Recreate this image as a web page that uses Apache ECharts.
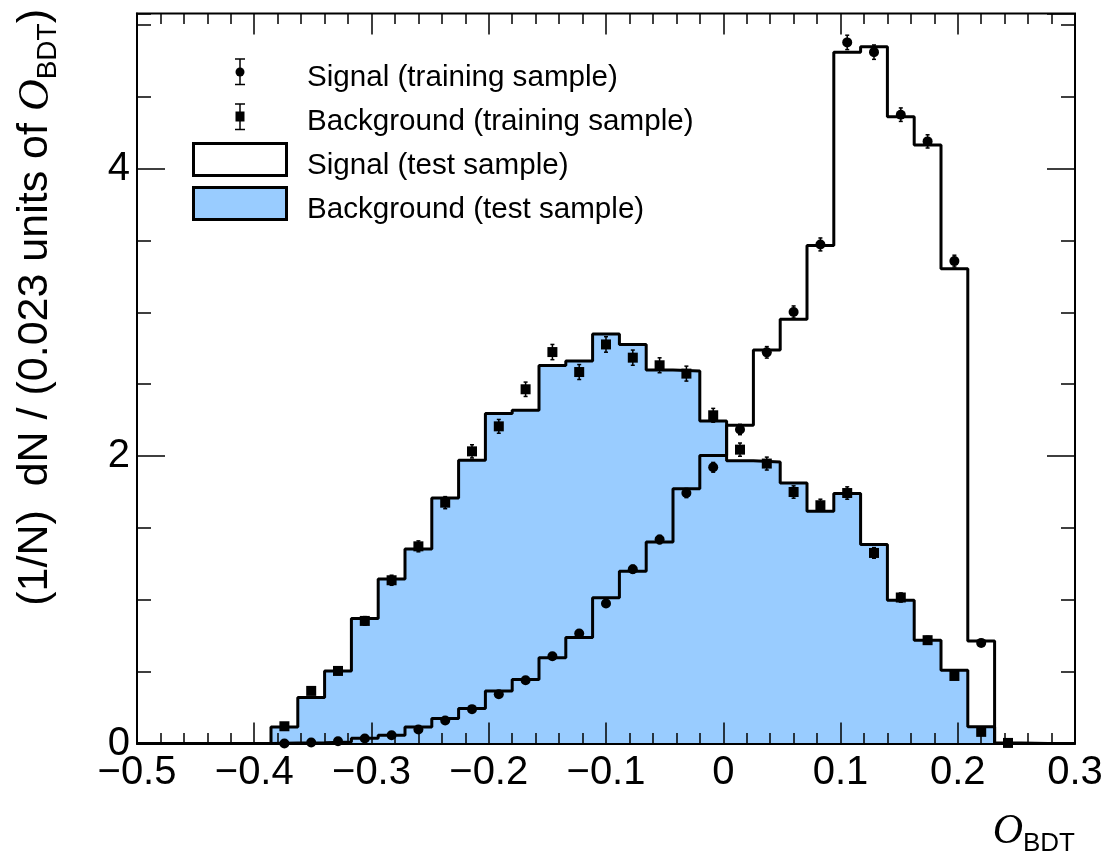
<!DOCTYPE html>
<html>
<head>
<meta charset="utf-8">
<script src="https://cdn.jsdelivr.net/npm/echarts@6/dist/echarts.min.js"></script>
<style>
  html, body { margin: 0; padding: 0; background: #fff; }
  #chart { width: 1114px; height: 862px; }
</style>
</head>
<body>
<div id="chart"></div>
<script>
// Binning of the BDT output
const xMin = -0.5;
const xMax = 0.3;
const nBins = 35;
const yMax = 5.08;
const xTickStep = 0.1;
const yMajorStep = 2;
const yMinorStep = 0.5;

// Normalised histograms, one value per bin
const bgTest = [0, 0, 0, 0, 0, 0.115, 0.32, 0.505, 0.87, 1.145,
  1.354, 1.709, 1.971, 2.296, 2.319, 2.63, 2.662, 2.85, 2.776, 2.60,
  2.592, 2.244, 1.968, 1.959, 1.813, 1.616, 1.739, 1.384, 0.997, 0.719,
  0.51, 0.116, 0.004, 0, 0];
const sigTest = [0, 0, 0, 0, 0, 0.003, 0.006, 0.011, 0.037, 0.058,
  0.115, 0.174, 0.243, 0.366, 0.445, 0.596, 0.737, 1.015, 1.199, 1.403,
  1.772, 2.004, 2.214, 2.738, 2.952, 3.466, 4.811, 4.848, 4.362, 4.165,
  3.304, 0.714, 0, 0, 0];
const sigTrain = [null, null, null, null, null, 0.0, 0.007, 0.016, 0.035, 0.058,
  0.097, 0.16, 0.239, 0.343, 0.44, 0.607, 0.765, 0.974, 1.213, 1.419,
  1.743, 1.922, 2.185, 2.722, 3.003, 3.473, 4.879, 4.811, 4.376, 4.19,
  3.357, 0.70, null, null, null];
const sigTrainErr = [null, null, null, null, null, 0.001, 0.002, 0.003, 0.005, 0.006,
  0.008, 0.01, 0.012, 0.015, 0.016, 0.019, 0.022, 0.024, 0.027, 0.029,
  0.032, 0.034, 0.036, 0.04, 0.042, 0.045, 0.05, 0.05, 0.047, 0.046,
  0.041, 0.019, null, null, null];
const bgTrain = [null, null, null, null, null, 0.12, 0.366, 0.505, 0.853, 1.136,
  1.372, 1.676, 2.033, 2.207, 2.465, 2.724, 2.585, 2.777, 2.685, 2.632,
  2.574, 2.284, 2.045, 1.948, 1.75, 1.658, 1.743, 1.326, 1.016, 0.719,
  0.47, 0.081, 0.004, null, null];
const bgTrainErr = [null, null, null, null, null, 0.012, 0.02, 0.025, 0.03, 0.035,
  0.038, 0.042, 0.046, 0.048, 0.05, 0.053, 0.052, 0.054, 0.053, 0.052,
  0.052, 0.048, 0.046, 0.045, 0.043, 0.042, 0.043, 0.037, 0.032, 0.027,
  0.022, 0.01, 0.002, null, null];

const legendLabels = [
  'Signal (training sample)',
  'Background (training sample)',
  'Signal (test sample)',
  'Background (test sample)'
];

const BLUE = '#99ccff';
const SANS = 'Liberation Sans, Arial, Helvetica, sans-serif';
const SERIF = 'Liberation Serif, Times New Roman, serif';

const binWidth = (xMax - xMin) / nBins;
const edges = [];
for (let i = 0; i <= nBins; i++) edges.push(xMin + i * binWidth);

// step outline: one point per left bin edge, plus the closing right edge
function stepData(values) {
  const d = values.map((v, i) => [edges[i], v]);
  d.push([xMax, values[values.length - 1]]);
  return d;
}
function pointData(values, errs) {
  const d = [];
  values.forEach((v, i) => {
    if (v !== null) d.push([edges[i] + binWidth / 2, v, errs[i]]);
  });
  return d;
}

function xLabel(v) {
  if (Math.abs(v) < 1e-9) return '0';
  return (v < 0 ? '\u2212' : '') + Math.abs(v).toFixed(1);
}

function errorBarItem(params, api) {
  const x = api.value(0), y = api.value(1), e = api.value(2);
  const hi = api.coord([x, y + e]);
  const lo = api.coord([x, y - e]);
  const cap = 2;
  const st = { stroke: '#000', lineWidth: 1.5 };
  return {
    type: 'group',
    children: [
      { type: 'line', shape: { x1: hi[0], y1: hi[1], x2: lo[0], y2: lo[1] }, style: st },
      { type: 'line', shape: { x1: hi[0] - cap, y1: hi[1], x2: hi[0] + cap, y2: hi[1] }, style: st },
      { type: 'line', shape: { x1: lo[0] - cap, y1: lo[1], x2: lo[0] + cap, y2: lo[1] }, style: st }
    ]
  };
}

const tickLine = { color: '#000', width: 1.5 };

function xAxisDef(pos, labels) {
  return {
    type: 'value', position: pos, min: xMin, max: xMax, interval: xTickStep, z: 10,
    axisLine: { show: pos === 'bottom', onZero: false, lineStyle: { color: '#000', width: 2 } },
    axisTick: { show: true, inside: true, length: 21, lineStyle: tickLine },
    minorTick: { show: true, splitNumber: 5, length: 10.5, lineStyle: tickLine },
    axisLabel: labels ? {
      show: true, fontSize: 40, fontFamily: SANS, color: '#000', margin: 9,
      formatter: xLabel, showMinLabel: true, showMaxLabel: true, hideOverlap: false
    } : { show: false },
    splitLine: { show: false }, minorSplitLine: { show: false }
  };
}
function yAxisDef(pos, step, len, labels) {
  return {
    type: 'value', position: pos, min: 0, max: yMax, interval: step, z: 10,
    axisLine: { show: pos === 'left' && labels, onZero: false, lineStyle: { color: '#000', width: 2 } },
    axisTick: { show: true, inside: true, length: len, lineStyle: tickLine },
    axisLabel: labels ? {
      show: true, fontSize: 40, fontFamily: SANS, color: '#000', margin: 7,
      showMaxLabel: false, hideOverlap: false, formatter: v => String(Math.round(v))
    } : { show: false },
    splitLine: { show: false }
  };
}

// legend rows (symbol column centred at x=240, text column at x=306)
const rowY = [72, 116.5, 159.5, 203.5];
const textY = [77.5, 122, 166, 210];
const st15 = { stroke: '#000', lineWidth: 1.5 };
const legendGraphics = [
  { type: 'line', shape: { x1: 240, y1: 59, x2: 240, y2: 84.5 }, style: st15 },
  { type: 'line', shape: { x1: 235, y1: 59, x2: 245, y2: 59 }, style: st15 },
  { type: 'line', shape: { x1: 235, y1: 84.5, x2: 245, y2: 84.5 }, style: st15 },
  { type: 'circle', shape: { cx: 240, cy: rowY[0], r: 4.5 }, style: { fill: '#000' } },
  { type: 'line', shape: { x1: 240, y1: 104, x2: 240, y2: 129.5 }, style: st15 },
  { type: 'line', shape: { x1: 235, y1: 104, x2: 245, y2: 104 }, style: st15 },
  { type: 'line', shape: { x1: 235, y1: 129.5, x2: 245, y2: 129.5 }, style: st15 },
  { type: 'rect', shape: { x: 235.5, y: rowY[1] - 5, width: 9, height: 10 }, style: { fill: '#000' } },
  { type: 'rect', shape: { x: 193.5, y: 143.5, width: 93, height: 32 }, style: { fill: '#fff', stroke: '#000', lineWidth: 3 } },
  { type: 'rect', shape: { x: 193.5, y: 187.5, width: 93, height: 32 }, style: { fill: BLUE, stroke: '#000', lineWidth: 3 } }
];
legendLabels.forEach((t, i) => {
  legendGraphics.push({
    type: 'text', x: 307, y: textY[i],
    style: { text: t, font: '29.6px ' + SANS, fill: '#000', align: 'left', verticalAlign: 'middle' }
  });
});

const xTitleRich = {
  o: { fontSize: 42, fontFamily: SERIF, fontStyle: 'italic', color: '#000', lineHeight: 46, verticalAlign: 'top' },
  s: { fontSize: 26, fontFamily: SANS, color: '#000', lineHeight: 30, padding: [22, 0, 0, 0], verticalAlign: 'bottom' }
};
const yTitleRich = {
  a: { fontSize: 43, fontFamily: SANS, color: '#000', lineHeight: 48, verticalAlign: 'top' },
  o: { fontSize: 44, fontFamily: SERIF, fontStyle: 'italic', color: '#000', lineHeight: 48, verticalAlign: 'top' },
  s: { fontSize: 28, fontFamily: SANS, color: '#000', lineHeight: 32, padding: [23, 0, 0, 0], verticalAlign: 'bottom' }
};

const chart = echarts.init(document.getElementById('chart'), null, { renderer: 'canvas' });
chart.setOption({
  animation: false,
  backgroundColor: '#fff',
  grid: { left: 137, top: 13.5, right: 39, bottom: 118.5, show: true, borderColor: '#000', borderWidth: 2, containLabel: false },
  xAxis: [xAxisDef('bottom', true), xAxisDef('top', false)],
  yAxis: [
    yAxisDef('left', yMajorStep, 28, true),
    yAxisDef('left', yMinorStep, 14, false),
    yAxisDef('right', yMajorStep, 28, false),
    yAxisDef('right', yMinorStep, 14, false)
  ],
  series: [
    {
      name: legendLabels[3], type: 'line', step: 'end', data: stepData(bgTest),
      symbol: 'none', z: 2,
      lineStyle: { color: '#000', width: 3 },
      areaStyle: { color: BLUE, opacity: 1, origin: 'start' }
    },
    {
      name: legendLabels[2], type: 'line', step: 'end', data: stepData(sigTest),
      symbol: 'none', z: 3,
      lineStyle: { color: '#000', width: 3 }
    },
    {
      type: 'custom', renderItem: errorBarItem, data: pointData(sigTrain, sigTrainErr), z: 4,
      encode: { x: 0, y: 1 }
    },
    {
      type: 'custom', renderItem: errorBarItem, data: pointData(bgTrain, bgTrainErr), z: 4,
      encode: { x: 0, y: 1 }
    },
    {
      name: legendLabels[0], type: 'scatter', data: pointData(sigTrain, sigTrainErr),
      symbol: 'circle', symbolSize: 10, itemStyle: { color: '#000', opacity: 1 }, z: 5
    },
    {
      name: legendLabels[1], type: 'scatter', data: pointData(bgTrain, bgTrainErr),
      symbol: 'rect', symbolSize: 10, itemStyle: { color: '#000', opacity: 1 }, z: 5
    }
  ],
  graphic: [
    {
      type: 'group', z: 100, children: legendGraphics
    },
    {
      // y-axis title, reading bottom to top
      type: 'text', x: 38, y: 9, rotation: Math.PI / 2, z: 100,
      style: {
        text: '{a|(1/N)  dN / (0.023 units of }{o|O}{s|BDT}{a|)}',
        rich: yTitleRich, align: 'right', verticalAlign: 'middle'
      }
    },
    {
      // x-axis title
      type: 'text', x: 1075, y: 834, z: 100,
      style: {
        text: '{o|O}{s|BDT}',
        rich: xTitleRich, align: 'right', verticalAlign: 'middle'
      }
    }
  ]
});
</script>
</body>
</html>
